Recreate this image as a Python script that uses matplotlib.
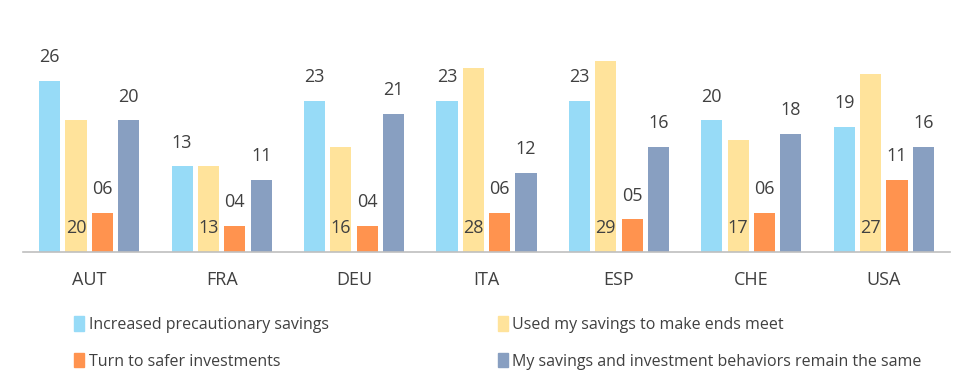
import numpy as np
import matplotlib
matplotlib.use("Agg")
import matplotlib.pyplot as plt
from matplotlib.patches import Patch

plt.rcParams['font.family'] = ['Open Sans', 'DejaVu Sans']

countries = ['AUT', 'FRA', 'DEU', 'ITA', 'ESP', 'CHE', 'USA']
precaution = [26, 13, 23, 23, 23, 20, 19]
used_savings = [20, 13, 16, 28, 29, 17, 27]
safer = [6, 4, 4, 6, 5, 6, 11]
same = [20, 11, 21, 12, 16, 18, 16]

series_names = ['Increased precautionary savings', 'Used my savings to make ends meet',
                'Turn to safer investments', 'My savings and investment behaviors remain the same']
colors = ['#97DBF7', '#FFE39B', '#FF934F', '#889FC1']
txt = '#404040'

fig = plt.figure(figsize=(9.77, 3.92), dpi=100)
ax = fig.add_axes([23/977, 140/392, 927/977, 197.4/392])

x = np.arange(len(countries))
pitch = 0.199
width = 0.16
data = [precaution, used_savings, safer, same]
for i, vals in enumerate(data):
    pos = x + (i - 1.5) * pitch
    ax.bar(pos, vals, width, color=colors[i])
    for p, v in zip(pos, vals):
        # yellow series has its label sitting inside the bar, near the bottom
        base = 0 if i == 1 else v
        ax.annotate('%02d' % v, (p, base), xytext=(0, 10.5), textcoords='offset points',
                    ha='center', va='bottom', fontsize=13, color=txt)

ax.set_xlim(-0.5, 6.5)
ax.set_ylim(0, 30)
ax.set_xticks(x)
ax.set_xticklabels(countries, fontsize=13, color=txt)
ax.tick_params(axis='x', length=0, pad=14)
ax.set_yticks([])
for s in ['top', 'left', 'right']:
    ax.spines[s].set_visible(False)
ax.spines['bottom'].set_color('#BFBFBF')
ax.spines['bottom'].set_linewidth(1.2)

handles = [Patch(color=c) for c in colors]
order = [0, 2, 1, 3]
fig.legend([handles[k] for k in order], [series_names[k] for k in order],
           ncol=2, loc='upper left', bbox_to_anchor=(60/977, 1 - 302/392),
           frameon=False, fontsize=11.5, labelcolor=txt, handlelength=0.6,
           handleheight=1.0, handletextpad=0.3, columnspacing=10.6, labelspacing=1.25)

fig.savefig('out.png', dpi=100)
